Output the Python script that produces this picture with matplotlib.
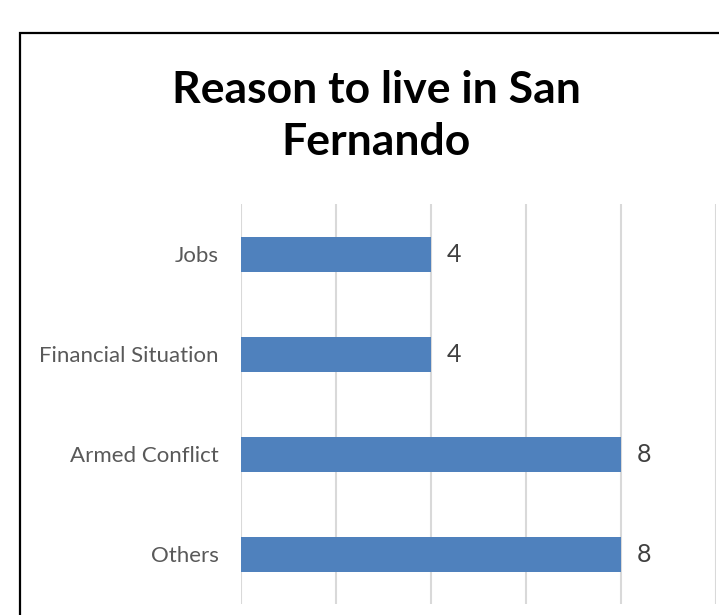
import matplotlib
matplotlib.use("Agg")
import matplotlib.pyplot as plt
from matplotlib.patches import Rectangle

categories = ["Jobs", "Financial Situation", "Armed Conflict", "Others"]
values = [4, 4, 8, 8]
title = "Reason to live in San\nFernando"

W, H, DPI = 719, 615, 100
plt.rcParams["font.family"] = ["Lato", "DejaVu Sans"]

fig = plt.figure(figsize=(W / DPI, H / DPI), dpi=DPI)
fig.patch.set_facecolor("white")

# chart border (runs off the right and bottom edges)
fig.patches.append(Rectangle((20 / W, -0.1), 1.2, 1 - 33 / H + 0.1,
                             transform=fig.transFigure, fill=False,
                             edgecolor="black", linewidth=1.6, zorder=0))

ax = fig.add_axes([241 / W, 1 - 604 / H, (716 - 241) / W, 400 / H])
ypos = list(range(len(categories)))
ax.barh(ypos, values, height=0.35, color="#4F81BD", zorder=3)
ax.set_ylim(len(categories) - 0.5, -0.5)
ax.set_xlim(0, 10)
ax.set_xticks([0, 2, 4, 6, 8, 10])
ax.set_xticklabels([])
ax.tick_params(axis="x", length=0)
ax.grid(axis="x", color="#D9D9D9", linewidth=1.5, zorder=0)
ax.set_yticks(ypos)
ax.set_yticklabels(categories, fontsize=16, color="#595959")
ax.tick_params(axis="y", length=0, pad=16)
for s in ax.spines.values():
    s.set_visible(False)

for y, v in zip(ypos, values):
    ax.annotate(str(v), (v, y), xytext=(11, 0), textcoords="offset points",
                va="center", ha="left", fontsize=18, color="#404040")

fig.text(376 / W, 1 - 116 / H, title, ha="center", va="center",
         fontsize=32, fontweight="bold", color="black", linespacing=1.38)

fig.savefig("out.png", dpi=DPI)
